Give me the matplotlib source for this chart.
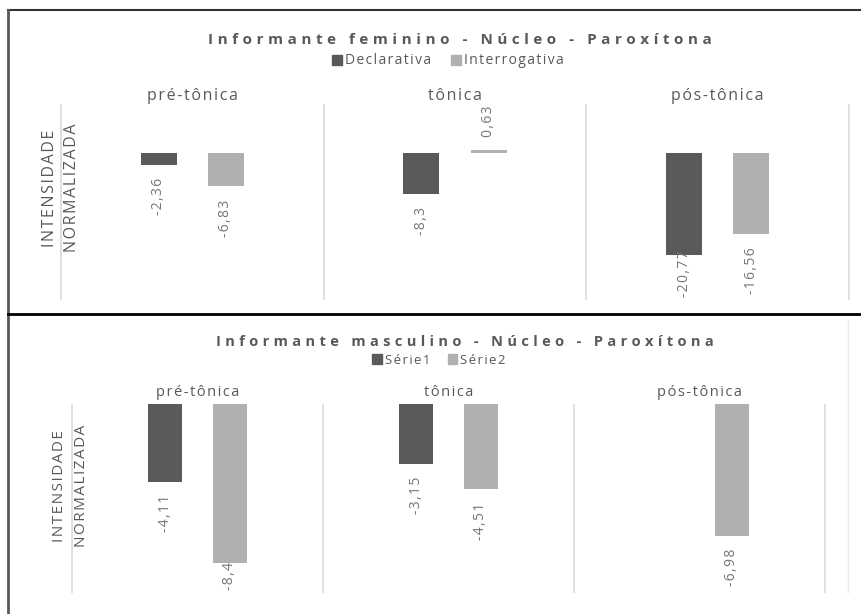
import matplotlib
matplotlib.use("Agg")
import matplotlib.pyplot as plt
from matplotlib.lines import Line2D
from matplotlib.patches import Patch
import numpy as np

# dados dos dois gráficos
categorias = ["pré-tônica", "tônica", "pós-tônica"]

fem_titulo = "Informante feminino - Núcleo - Paroxítona"
fem_series = ["Declarativa", "Interrogativa"]
fem_declarativa = [-2.36, -8.3, -20.77]
fem_interrogativa = [-6.83, 0.63, -16.56]

masc_titulo = "Informante masculino - Núcleo - Paroxítona"
masc_series = ["Série1", "Série2"]
masc_serie1 = [-4.11, -3.15, np.nan]
masc_serie2 = [-8.4, -4.51, -6.98]

eixo_y = "INTENSIDADE\nNORMALIZADA"

COR_ESCURA = "#5a5a5a"
COR_CLARA = "#b0b0b0"
COR_TEXTO = "#595959"
COR_ROTULO = "#767676"
W, H = 862, 614
HAIR = "\u200a"

plt.rcParams["font.family"] = ["Open Sans", "DejaVu Sans"]

fig = plt.figure(figsize=(W / 100, H / 100), dpi=100)


def fx(x):
    return x / W


def fy(y):
    return 1 - y / H


def caixa_px(x0, y0, x1, y1):
    return [x0 / W, 1 - y1 / H, (x1 - x0) / W, (y1 - y0) / H]


def espacado(txt, sep=HAIR):
    return "\n".join(sep.join(linha) for linha in txt.split("\n"))


def formata(v):
    s = f"{v:.2f}".rstrip("0").rstrip(".")
    return s.replace(".", ",")


def painel(caixa, ylim, serie_a, serie_b, desloc, largura, pad_cat, fs_cat):
    ax = fig.add_axes(caixa_px(*caixa))
    x = np.arange(len(categorias))
    ax.bar(x - desloc, serie_a, largura, color=COR_ESCURA)
    ax.bar(x + desloc, serie_b, largura, color=COR_CLARA)
    ax.set_xlim(-0.5, len(categorias) - 0.5)
    ax.set_ylim(*ylim)
    for s in ax.spines.values():
        s.set_visible(False)
    ax.set_yticks([])
    ax.xaxis.tick_top()
    ax.set_xticks(x, [espacado(c) for c in categorias])
    ax.tick_params(axis="x", length=0, pad=pad_cat, labelsize=fs_cat,
                   labelcolor=COR_TEXTO)
    # divisões entre categorias
    ax.vlines(np.arange(-0.5, len(categorias)), ylim[0], ylim[1],
              color="#d9d9d9", lw=1.2, clip_on=False, zorder=0)

    rotulos = []
    for xs, serie in ((x - desloc, serie_a), (x + desloc, serie_b)):
        for xi, v in zip(xs, serie):
            if np.isnan(v):
                continue
            off = 9.5 if v > 0 else -9.5
            t = ax.annotate(espacado(formata(v)), (xi, v),
                            xytext=(0, off), textcoords="offset points",
                            rotation=90, ha="center",
                            va="bottom" if v > 0 else "top",
                            fontsize=10, color=COR_ROTULO)
            rotulos.append(t)
    return ax, rotulos


ax1, rot1 = painel((61, 104, 849, 300), (-30, 10), fem_declarativa,
                   fem_interrogativa, 0.128, 0.137, 0, 11.5)
ax2, rot2 = painel((72, 404, 825, 593), (-10, 0), masc_serie1,
                   masc_serie2, 0.129, 0.135, 3, 10.5)

# rótulos que passariam do fundo da área de plotagem sobem
fig.canvas.draw()
for ax, rotulos in ((ax1, rot1), (ax2, rot2)):
    fundo = ax.get_window_extent().y0 + 3
    for t in rotulos:
        bb = t.get_window_extent()
        if bb.y0 < fundo:
            dx, dy = t.xyann
            t.xyann = (dx, dy + (fundo - bb.y0) * 72 / fig.dpi)

# títulos, legendas e rótulos do eixo
for titulo, x_tit, y_tit, fs_tit, nomes, x_leg, y_leg, fs_leg, colsp in (
        (fem_titulo, 460, 40, 11, fem_series, 448, 61, 10, 1.4),
        (masc_titulo, 465, 342, 10.5, masc_series, 439, 360, 9.5, 1.3)):
    fig.text(fx(x_tit), fy(y_tit), espacado(titulo, "\u2009" + HAIR),
             ha="center", va="center", fontsize=fs_tit, fontweight="bold",
             color=COR_TEXTO)
    fig.legend(handles=[Patch(color=COR_ESCURA), Patch(color=COR_CLARA)],
               labels=[espacado(n) for n in nomes], loc="center",
               bbox_to_anchor=(fx(x_leg), fy(y_leg)),
               ncol=2, frameon=False, fontsize=fs_leg, handlelength=0.7,
               handleheight=0.7, handletextpad=0.25, columnspacing=colsp,
               labelcolor=COR_TEXTO, borderpad=0, borderaxespad=0)

fig.text(fx(61), fy(188), espacado(eixo_y), rotation=90, ha="center",
         va="center", multialignment="center", linespacing=1.55,
         fontsize=11.5, color=COR_TEXTO)
fig.text(fx(70.5), fy(486), espacado(eixo_y), rotation=90, ha="center",
         va="center", multialignment="center", linespacing=1.55,
         fontsize=11, color=COR_TEXTO)

# molduras das duas áreas de gráfico
fig.add_artist(Line2D([fx(8), 1], [fy(9.5), fy(9.5)], color="#333333", lw=1.5))
fig.add_artist(Line2D([fx(8), fx(8)], [fy(9.5), 0], color="#595959", lw=2))
fig.add_artist(Line2D([fx(8), 1], [fy(313.5), fy(313.5)], color="black", lw=2))
fig.add_artist(Line2D([fx(848), fx(848)], [fy(320), fy(592)],
                      color="#ececec", lw=1))

fig.savefig("out.png", dpi=100)
